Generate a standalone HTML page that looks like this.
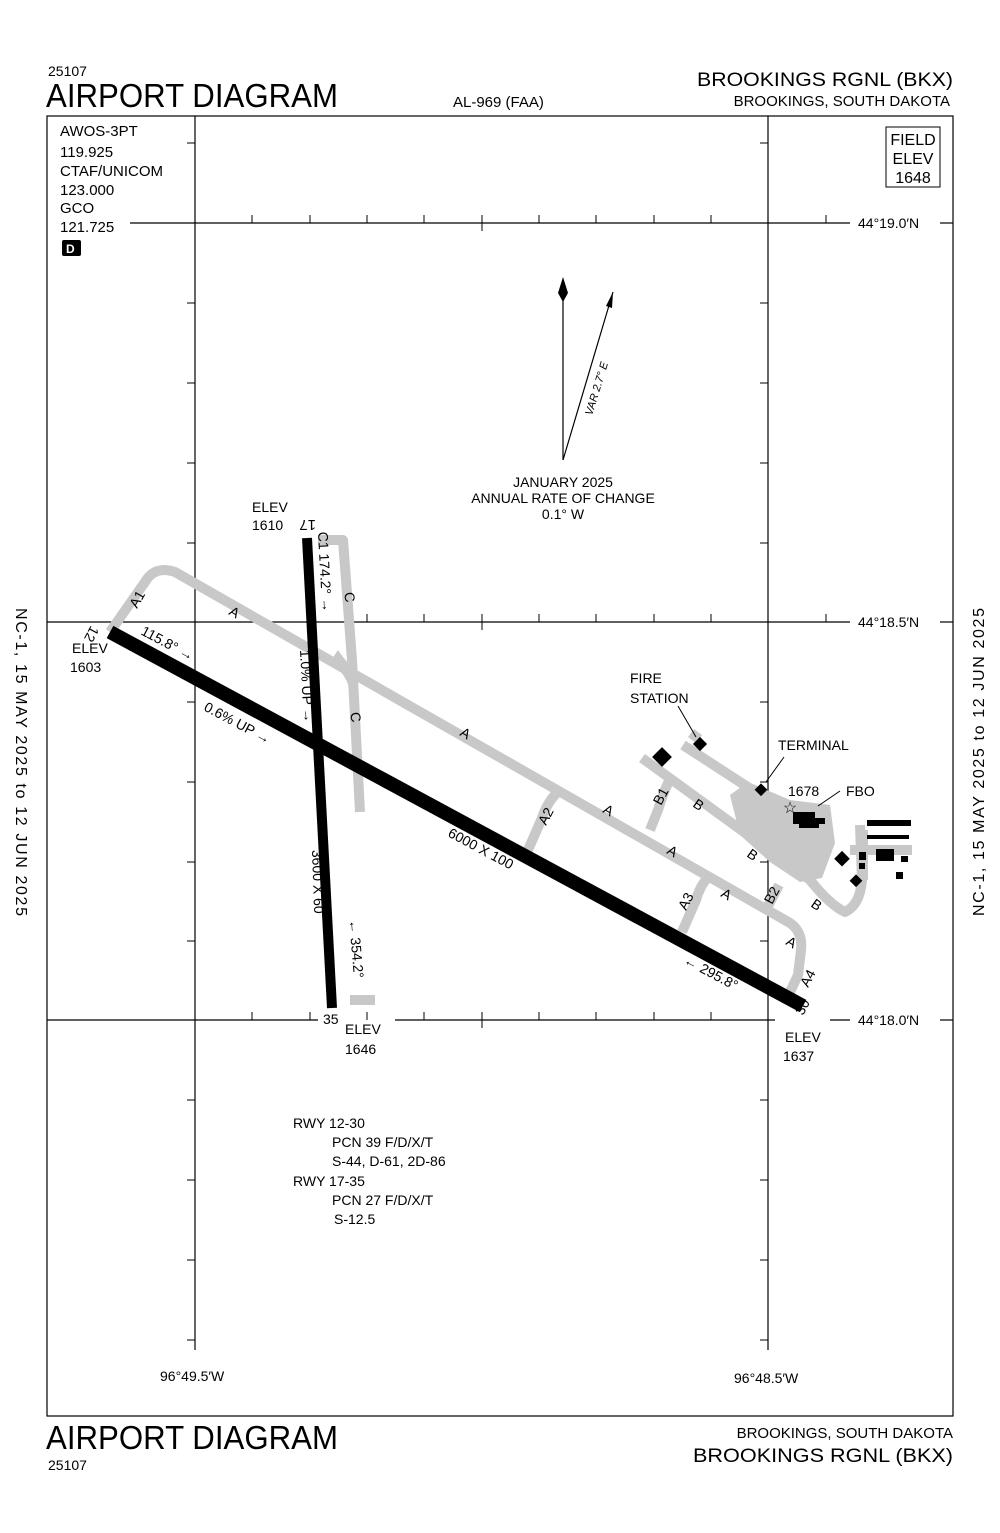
<!DOCTYPE html>
<html><head><meta charset="utf-8"><style>
body{margin:0;background:#fff}
svg{display:block}
text{font-family:"Liberation Sans",sans-serif;fill:#000}
</style></head><body>
<svg width="1000" height="1533" viewBox="0 0 1000 1533" xmlns="http://www.w3.org/2000/svg">
<text x="48" y="76" font-size="14">25107</text>
<text x="46" y="107" font-size="33" textLength="292" lengthAdjust="spacingAndGlyphs">AIRPORT DIAGRAM</text>
<text x="453" y="107" font-size="15">AL-969 (FAA)</text>
<text x="697" y="86" font-size="19" textLength="256" lengthAdjust="spacingAndGlyphs">BROOKINGS RGNL (BKX)</text>
<text x="950" y="106" font-size="15" text-anchor="end">BROOKINGS, SOUTH DAKOTA</text>
<rect x="47" y="116" width="906" height="1300" fill="none" stroke="#000" stroke-width="1.2"/>
<text x="60" y="136" font-size="15">AWOS-3PT</text>
<text x="60" y="157" font-size="15">119.925</text>
<text x="60" y="176" font-size="15">CTAF/UNICOM</text>
<text x="60" y="195" font-size="15">123.000</text>
<text x="60" y="213" font-size="15">GCO</text>
<text x="60" y="232" font-size="15">121.725</text>
<rect x="62" y="240" width="19" height="16" rx="2" fill="#000"/>
<text x="66" y="253" font-size="12" font-weight="bold" style="fill:#fff">D</text>
<rect x="886" y="127" width="54" height="60" fill="none" stroke="#000"/>
<text x="913" y="145" font-size="16" text-anchor="middle">FIELD</text>
<text x="913" y="164" font-size="16" text-anchor="middle">ELEV</text>
<text x="913" y="183" font-size="16" text-anchor="middle">1648</text>
<g stroke="#000" stroke-width="1.2" fill="none">
<line x1="195" y1="116" x2="195" y2="1350"/>
<line x1="768" y1="116" x2="768" y2="1350"/>
<line x1="130" y1="223" x2="850" y2="223"/><line x1="940" y1="223" x2="953" y2="223"/>
<line x1="47" y1="622" x2="850" y2="622"/><line x1="940" y1="622" x2="953" y2="622"/>
<line x1="47" y1="1020" x2="318" y2="1020"/><line x1="395" y1="1020" x2="775" y2="1020"/><line x1="830" y1="1020" x2="850" y2="1020"/><line x1="940" y1="1020" x2="953" y2="1020"/>
</g>
<g stroke="#000" stroke-width="1">
<path d="M187 143h8M187 303h8M187 383h8M187 463h8M187 543h8M187 702h8M187 782h8M187 862h8M187 941h8M187 1100h8M187 1180h8M187 1260h8M187 1340h8"/>
<path d="M760 143h8M760 303h8M760 383h8M760 463h8M760 543h8M760 702h8M760 782h8M760 862h8M760 941h8M760 1100h8M760 1180h8M760 1260h8M760 1340h8"/>
<path d="M252 215v8M310 215v8M367 215v8M424 215v8M482 215v16M539 215v8M596 215v8M654 215v8M711 215v8M826 215v8"/>
<path d="M252 614v8M310 614v8M367 614v8M424 614v8M482 614v16M539 614v8M596 614v8M654 614v8M711 614v8M826 614v8"/>
<path d="M252 1012v8M310 1012v8M367 1012v8M424 1012v8M482 1012v16M539 1012v8M596 1012v8M654 1012v8M711 1012v8"/>
</g>
<text x="858" y="228" font-size="14">44°19.0′N</text>
<text x="858" y="627" font-size="14">44°18.5′N</text>
<text x="858" y="1025" font-size="14">44°18.0′N</text>
<text x="160" y="1381" font-size="14">96°49.5′W</text>
<text x="734" y="1383" font-size="14">96°48.5′W</text>
<text transform="translate(16,608) rotate(90)" font-size="16" textLength="308" lengthAdjust="spacing">NC-1,  15 MAY 2025  to  12 JUN 2025</text>
<text transform="translate(984,916) rotate(-90)" font-size="16" textLength="308" lengthAdjust="spacing">NC-1,  15 MAY 2025  to  12 JUN 2025</text>
<!-- north arrow -->
<line x1="563" y1="300" x2="563" y2="460" stroke="#000" stroke-width="1.2"/>
<path d="M563 277 L568 293 L563 302 L558 293 Z" fill="#000"/>
<line x1="563" y1="460" x2="613" y2="292" stroke="#000" stroke-width="1.2"/>
<path d="M613 292 L612 308 L606 306 Z" fill="#000"/>
<text transform="translate(592,416) rotate(-73)" font-size="11" font-style="italic">VAR 2.7° E</text>
<text x="563" y="487" font-size="14" text-anchor="middle">JANUARY 2025</text>
<text x="563" y="503" font-size="14" text-anchor="middle">ANNUAL RATE OF CHANGE</text>
<text x="563" y="519" font-size="14" text-anchor="middle">0.1° W</text>
<!-- taxiways -->
<g stroke="#c8c8c8" stroke-width="10" fill="none" stroke-linejoin="round" stroke-linecap="butt">
<path d="M110 632 L145 582 Q155 565 175 572 L790 923 Q803 932 801 950 L798 975 L790 992"/>
<path d="M318 540 H343 L352 660 L360 812"/>
<path d="M560 790 Q548 800 542 818 L528 850"/>
<path d="M710 875 Q700 885 696 900 L682 932"/>
<path d="M642 758 L810 880 Q830 905 845 912 Q860 905 862 880 L860 825"/>
<path d="M683 745 L760 795"/>
<path d="M671 777 Q664 790 658 810 L650 830"/>
<path d="M350 1000 H375"/>
<path d="M779 885 L765 912"/>
<path d="M850 850 H912"/>
<path d="M692 740 L698 732"/>
</g>
<path d="M338 650 Q350 668 365 676 L350 690 Q345 672 330 662 Z" fill="#c8c8c8"/>
<path d="M730 795 L748 782 L790 800 L830 805 L835 843 L822 878 L800 882 L770 862 L740 835 Z" fill="#c8c8c8"/>
<rect x="858" y="830" width="10" height="50" fill="#c8c8c8"/>
<!-- runways -->
<line x1="110" y1="632" x2="803" y2="1006" stroke="#000" stroke-width="14"/>
<line x1="307" y1="538" x2="332" y2="1008" stroke="#000" stroke-width="10"/>
<!-- buildings -->
<g fill="#000">
<rect x="655" y="750" width="14" height="14" transform="rotate(45 662 757)"/>
<rect x="695" y="739" width="10" height="10" transform="rotate(45 700 744)"/>
<rect x="757" y="785" width="9" height="9" transform="rotate(45 761 789)"/>
<rect x="793" y="812" width="22" height="12"/><rect x="799" y="818" width="20" height="10"/><rect x="815" y="818" width="10" height="6"/>
<rect x="837" y="853" width="11" height="11" transform="rotate(45 842 858)"/>
<rect x="852" y="876" width="9" height="9" transform="rotate(45 856 880)"/>
<rect x="867" y="820" width="44" height="6"/>
<rect x="867" y="835" width="42" height="4"/>
<rect x="859" y="852" width="7" height="8"/><rect x="859" y="863" width="6" height="6"/>
<rect x="876" y="849" width="18" height="12"/><rect x="901" y="856" width="7" height="6"/><rect x="896" y="872" width="7" height="7"/>
</g>
<text x="790" y="813" font-size="16" text-anchor="middle">☆</text>
<!-- labels -->
<text x="252" y="512" font-size="14" >ELEV</text>
<text x="252" y="530" font-size="14">1610</text>
<text transform="translate(316,520) rotate(180)" font-size="15">17</text>
<text transform="translate(318,532) rotate(87)" font-size="14">C1 174.2° →</text>
<text transform="translate(344,593) rotate(80)" font-size="14">C</text>
<text transform="translate(350,713) rotate(80)" font-size="14">C</text>
<text transform="translate(300,650) rotate(87)" font-size="14">1.0% UP →</text>
<text transform="translate(91,625) rotate(118)" font-size="14">12</text>
<text x="72" y="653" font-size="14">ELEV</text>
<text x="70" y="672" font-size="14">1603</text>
<text transform="translate(140,634) rotate(28)" font-size="14">115.8° →</text>
<text transform="translate(203,710) rotate(28)" font-size="14">0.6% UP →</text>
<text transform="translate(137,609) rotate(-60)" font-size="14">A1</text>
<text transform="translate(228,614) rotate(30)" font-size="14">A</text>
<text transform="translate(459,735) rotate(30)" font-size="14">A</text>
<text transform="translate(602,812) rotate(30)" font-size="14">A</text>
<text transform="translate(666,853) rotate(30)" font-size="14">A</text>
<text transform="translate(720,896) rotate(30)" font-size="14">A</text>
<text transform="translate(785,944) rotate(30)" font-size="14">A</text>
<text transform="translate(546,826) rotate(-62)" font-size="14">A2</text>
<text transform="translate(686,911) rotate(-62)" font-size="14">A3</text>
<text transform="translate(808,988) rotate(-62)" font-size="14">A4</text>
<text transform="translate(661,806) rotate(-62)" font-size="14">B1</text>
<text transform="translate(772,905) rotate(-62)" font-size="14">B2</text>
<text transform="translate(692,806) rotate(35)" font-size="14">B</text>
<text transform="translate(746,856) rotate(35)" font-size="14">B</text>
<text transform="translate(810,906) rotate(35)" font-size="14">B</text>
<text transform="translate(447,836) rotate(28)" font-size="14">6000 X 100</text>
<text transform="translate(312,850) rotate(88)" font-size="14">3600 X 60</text>
<text transform="translate(349,920) rotate(85)" font-size="14">← 354.2°</text>
<text transform="translate(683,963) rotate(28)" font-size="14">← 295.8°</text>
<text transform="translate(803,1016) rotate(-62)" font-size="14">30</text>
<text x="323" y="1024" font-size="14">35</text>
<text x="345" y="1034" font-size="14">ELEV</text>
<text x="345" y="1054" font-size="14">1646</text>
<text x="785" y="1042" font-size="14">ELEV</text>
<text x="783" y="1061" font-size="14">1637</text>
<text x="630" y="683" font-size="14">FIRE</text>
<text x="630" y="703" font-size="14">STATION</text>
<line x1="678" y1="706" x2="696" y2="737" stroke="#000"/>
<text x="778" y="750" font-size="14">TERMINAL</text>
<line x1="784" y1="757" x2="766" y2="782" stroke="#000"/>
<text x="788" y="796" font-size="14">1678</text>
<text x="846" y="796" font-size="14">FBO</text>
<line x1="840" y1="791" x2="818" y2="806" stroke="#000"/>
<g font-size="14">
<text x="293" y="1128">RWY 12-30</text>
<text x="332" y="1147">PCN 39 F/D/X/T</text>
<text x="332" y="1166">S-44, D-61, 2D-86</text>
<text x="293" y="1186">RWY 17-35</text>
<text x="332" y="1205">PCN 27 F/D/X/T</text>
<text x="334" y="1224">S-12.5</text>
</g>
<text x="46" y="1449" font-size="33" textLength="292" lengthAdjust="spacingAndGlyphs">AIRPORT DIAGRAM</text>
<text x="48" y="1470" font-size="14">25107</text>
<text x="953" y="1438" font-size="15" text-anchor="end">BROOKINGS, SOUTH DAKOTA</text>
<text x="693" y="1462" font-size="19" textLength="260" lengthAdjust="spacingAndGlyphs">BROOKINGS RGNL (BKX)</text>
</svg>
</body></html>
